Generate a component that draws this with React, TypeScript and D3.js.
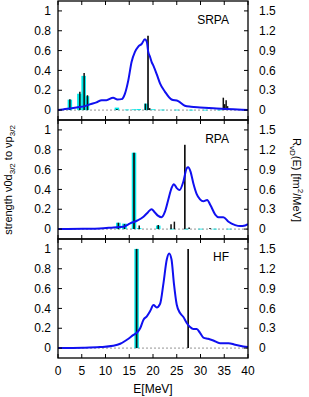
import React from "react";
import * as d3 from "d3";

// ---------- data ----------
const xTicks = [0, 5, 10, 15, 20, 25, 30, 35, 40];
const leftTicks = [0, 0.2, 0.4, 0.6, 0.8, 1];
const rightTicks = [0, 0.3, 0.6, 0.9, 1.2, 1.5];
const panelNames = ["SRPA", "RPA", "HF"];

// SRPA
const srpaCurveE = [0, 1, 2.5, 3.9, 5.7, 6.7, 8.1, 9.2, 10.2, 11.6, 12.5, 13.4, 14.1, 14.8, 15.5, 16.2, 16.9, 17.6, 18.3, 18.7, 19.0, 19.4, 19.7, 20.1, 20.8, 21.5, 22.5, 23.9, 25.3, 26.7, 28, 29.9, 33.4, 36.9, 40];
const srpaCurveR = [0, 0.01, 0.025, 0.04, 0.06, 0.086, 0.116, 0.15, 0.15, 0.186, 0.16, 0.166, 0.25, 0.45, 0.73, 0.88, 0.96, 1.0, 1.07, 1.03, 0.88, 0.8, 0.73, 0.67, 0.54, 0.4, 0.28, 0.16, 0.135, 0.065, 0.05, 0.04, 0.025, 0.012, 0];
const srpaCyanE = [2.5, 4.5, 5.4, 6.1, 12.4, 14.5, 16.0, 17.0, 18.6, 20.0, 22.0, 25.0, 28.0, 31.0, 34.0];
const srpaCyanS = [0.105, 0.165, 0.345, 0.14, 0.025, 0.006, 0.008, 0.01, 0.065, 0.008, 0.005, 0.005, 0.004, 0.004, 0.005];
const srpaBlackE = [2.5, 4.6, 5.5, 6.2, 12.4, 18.4, 18.95, 19.3, 34.8, 35.1, 35.4, 35.7];
const srpaBlackS = [0.11, 0.185, 0.375, 0.15, 0.01, 0.065, 0.75, 0.02, 0.125, 0.06, 0.1, 0.04];

// RPA
const rpaCurveE = [0, 5.3, 8.8, 11.7, 13.7, 15.2, 16.6, 18.0, 19.0, 19.7, 20.4, 21.1, 21.8, 22.5, 23.2, 23.9, 24.4, 25.0, 25.6, 26.4, 27.1, 27.4, 27.9, 28.5, 29.2, 29.9, 30.6, 31.4, 32.1, 33.1, 33.8, 34.8, 35.9, 37.3, 38.3, 39.4, 40];
const rpaCurveR = [0, 0.005, 0.01, 0.025, 0.035, 0.086, 0.126, 0.186, 0.26, 0.3, 0.25, 0.2, 0.18, 0.26, 0.44, 0.62, 0.68, 0.62, 0.59, 0.72, 0.92, 0.935, 0.87, 0.69, 0.53, 0.45, 0.42, 0.44, 0.36, 0.22, 0.18, 0.18, 0.11, 0.06, 0.045, 0.055, 0.075];
const rpaCyanE = [12.7, 14.0, 16.0, 17.1, 21.1, 24.0, 27.0, 30.0, 33.0, 36.0];
const rpaCyanS = [0.064, 0.055, 0.77, 0.01, 0.035, 0.004, 0.004, 0.004, 0.004, 0.004];
const rpaBlackE = [12.7, 14.0, 16.0, 17.1, 21.1, 23.8, 24.5, 26.7, 27.6, 32.0];
const rpaBlackS = [0.064, 0.05, 0.77, 0.035, 0.04, 0.05, 0.075, 0.85, 0.015, 0.01];

// HF
const hfCurveE = [0, 5.3, 8.8, 11.6, 13.1, 14.5, 15.9, 16.7, 17.3, 18.0, 18.7, 19.4, 20.1, 20.8, 21.5, 22.2, 22.9, 23.4, 23.9, 24.4, 25.0, 25.7, 26.4, 27.1, 27.8, 28.5, 29.2, 29.9, 30.6, 31.6, 32.7, 34.1, 35.9, 37.3, 39.0, 40];
const hfCurveR = [0, 0.005, 0.015, 0.035, 0.065, 0.126, 0.2, 0.24, 0.3, 0.43, 0.48, 0.56, 0.65, 0.615, 0.67, 0.98, 1.34, 1.43, 1.34, 0.98, 0.655, 0.53, 0.47, 0.38, 0.32, 0.29, 0.29, 0.23, 0.16, 0.14, 0.115, 0.075, 0.075, 0.05, 0.025, 0.015];
const hfCyanE = [16.55];
const hfCyanS = [1.0];
const hfBlackE = [16.55, 27.4];
const hfBlackS = [1.0, 1.0];

// ---------- layout ----------
const W = 309;
const H = 397;
const left = 58;
const right = 248;
const panelTops = [1, 120, 239];
const panelH = 119;
const FONT = "'Liberation Sans', Arial, Helvetica, sans-serif";
const FS = 12;

const panels = [
  { name: panelNames[0], cE: srpaCurveE, cR: srpaCurveR, qE: srpaCyanE, qS: srpaCyanS, bE: srpaBlackE, bS: srpaBlackS },
  { name: panelNames[1], cE: rpaCurveE, cR: rpaCurveR, qE: rpaCyanE, qS: rpaCyanS, bE: rpaBlackE, bS: rpaBlackS },
  { name: panelNames[2], cE: hfCurveE, cR: hfCurveR, qE: hfCyanE, qS: hfCyanS, bE: hfBlackE, bS: hfBlackS },
];

const x = d3.scaleLinear().domain([0, 40]).range([left, right]);

function Panel({ p, i }: { p: any; i: number }) {
  const top = panelTops[i];
  const bot = top + panelH;
  const yL = d3.scaleLinear().domain([-0.1, 1.1]).range([bot, top]);
  const yR = d3.scaleLinear().domain([-0.15, 1.65]).range([bot, top]);
  const pts: [number, number][] = p.cE.map((e: number, k: number) => [e, p.cR[k]]);
  const line = d3
    .line<[number, number]>()
    .x((d) => x(d[0]))
    .y((d) => yR(d[1]))
    .curve(d3.curveMonotoneX);
  const boxW = x(0.95) - x(0);
  const tick = 4;
  return (
    <g>
      <defs>
        <clipPath id={`clip${i}`}>
          <rect x={left} y={top} width={right - left} height={panelH} />
        </clipPath>
      </defs>
      <g clipPath={`url(#clip${i})`}>
        <line x1={left} x2={right} y1={yL(0)} y2={yL(0)} stroke="#777" strokeWidth={0.8} strokeDasharray="2,2" />
        {p.qE.map((e: number, k: number) => (
          <rect key={`q${k}`} x={x(e) - boxW / 2} width={boxW} y={yL(p.qS[k])} height={Math.max(0.8, yL(0) - yL(p.qS[k]))} fill="#00e8e8" />
        ))}
        {p.bE.map((e: number, k: number) => (
          <line key={`b${k}`} x1={x(e)} x2={x(e)} y1={yL(0)} y2={yL(p.bS[k])} stroke="#111" strokeWidth={p.bS[k] > 0.5 ? 1.7 : 1.5} />
        ))}
        <path d={line(pts) || ""} fill="none" stroke="#1010f0" strokeWidth={2} />
      </g>
      {xTicks.map((t) => (
        <g key={`xt${t}`}>
          <line x1={x(t)} x2={x(t)} y1={top} y2={top + tick} stroke="#000" strokeWidth={1} />
          <line x1={x(t)} x2={x(t)} y1={bot} y2={bot - tick} stroke="#000" strokeWidth={1} />
        </g>
      ))}
      {leftTicks.map((t) => (
        <g key={`lt${t}`}>
          <line x1={left} x2={left + tick} y1={yL(t)} y2={yL(t)} stroke="#000" strokeWidth={1} />
          <text x={51} y={yL(t)} dy="0.35em" textAnchor="end" fontSize={FS} fontFamily={FONT} fill="#000">
            {String(t)}
          </text>
        </g>
      ))}
      {rightTicks.map((t) => (
        <g key={`rt${t}`}>
          <line x1={right} x2={right - tick} y1={yR(t)} y2={yR(t)} stroke="#000" strokeWidth={1} />
          <text x={259} y={yR(t)} dy="0.35em" textAnchor="start" fontSize={FS} fontFamily={FONT} fill="#000">
            {String(t)}
          </text>
        </g>
      ))}
      <rect x={left} y={top} width={right - left} height={panelH} fill="none" stroke="#000" strokeWidth={1.3} />
      <text x={229} y={top + [23, 23, 22][i]} textAnchor="end" fontSize={FS} fontFamily={FONT} fill="#000">
        {p.name}
      </text>
    </g>
  );
}

export default function App() {
  const lastBot = panelTops[2] + panelH;
  return (
    <svg width={W} height={H} style={{ position: "absolute", left: 0, top: 0, background: "#fff" }}>
      <rect width={W} height={H} fill="#fff" />
      {panels.map((p, i) => (
        <Panel key={p.name} p={p} i={i} />
      ))}
      {xTicks.map((t) => (
        <text key={`xl${t}`} x={x(t)} y={lastBot + 17} textAnchor="middle" fontSize={FS} fontFamily={FONT} fill="#000">
          {String(t)}
        </text>
      ))}
      <text x={153} y={393} textAnchor="middle" fontSize={FS} fontFamily={FONT} fill="#000">
        E[MeV]
      </text>
      <text transform="translate(11.5,180) rotate(-90)" textAnchor="middle" fontSize={11} fontFamily={FONT} fill="#000">
        strength ν0d<tspan fontSize={8} dy={3}>3/2</tspan>
        <tspan dy={-3}>{"  to  νp"}</tspan>
        <tspan fontSize={8} dy={3}>3/2</tspan>
      </text>
      <text transform="translate(293,180) rotate(90)" textAnchor="middle" fontSize={11} fontFamily={FONT} fill="#000">
        R<tspan fontSize={8} dy={3}>νD</tspan>
        <tspan dy={-3}>(E) [fm</tspan>
        <tspan fontSize={8} dy={-5}>2</tspan>
        <tspan dy={5}>/MeV]</tspan>
      </text>
    </svg>
  );
}
